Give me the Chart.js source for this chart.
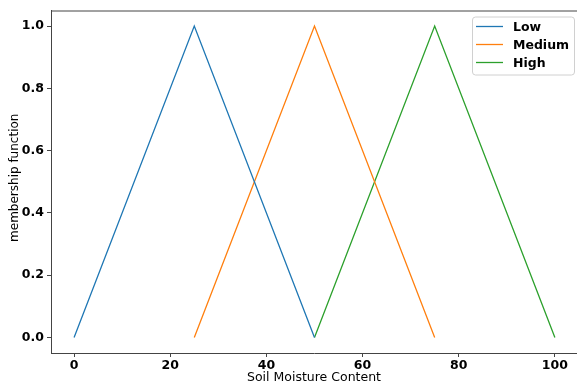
<!DOCTYPE html>
<html>
<head>
<meta charset="utf-8">
<script src="https://cdn.jsdelivr.net/npm/chart.js@4/dist/chart.umd.min.js"></script>
<style>
html,body{margin:0;padding:0;background:#fff;overflow:hidden;}
#wrap{width:577px;height:386px;}
</style>
</head>
<body>
<div id="wrap"><canvas id="c" width="577" height="386"></canvas></div>
<script>
const seriesNames = ["Low", "Medium", "High"];
const seriesColors = ["#1f77b4", "#ff7f0e", "#2ca02c"];
const lowX = [0, 25, 50];
const lowY = [0, 1, 0];
const mediumX = [25, 50, 75];
const mediumY = [0, 1, 0];
const highX = [50, 75, 100];
const highY = [0, 1, 0];
const xTicks = [0, 20, 40, 60, 80, 100];
const yTicks = [0.0, 0.2, 0.4, 0.6, 0.8, 1.0];
const xTitle = "Soil Moisture Content";
const yTitle = "membership function";

const xs = [lowX, mediumX, highX];
const ys = [lowY, mediumY, highY];

const datasets = seriesNames.map((name, i) => ({
  label: name,
  data: xs[i].map((x, j) => ({x: x, y: ys[i][j]})),
  borderColor: seriesColors[i],
  backgroundColor: seriesColors[i],
  borderWidth: 1.3,
  pointRadius: 0,
  tension: 0,
  fill: false
}));

const tickFont = {family: "'DejaVu Sans'", size: 12.5, weight: 'bold'};
const xTitleFont = {family: "'DejaVu Sans'", size: 12.5, weight: 'normal'};
const spineColor = '#444';

const framePlugin = {
  id: 'frame',
  afterDatasetsDraw(chart) {
    const ctx = chart.ctx;
    const a = chart.chartArea;
    ctx.save();
    ctx.strokeStyle = spineColor;
    ctx.lineWidth = 1;
    ctx.beginPath();
    ctx.moveTo(a.left, a.top + 0.5);
    ctx.lineTo(a.right, a.top + 0.5);
    ctx.stroke();

    // y axis title
    ctx.save();
    ctx.translate(15, (a.top + a.bottom) / 2 - 4);
    ctx.rotate(-Math.PI / 2);
    ctx.font = "12px 'DejaVu Sans'";
    ctx.fillStyle = '#000';
    ctx.textAlign = 'center';
    ctx.textBaseline = 'middle';
    ctx.fillText(yTitle, 0, 0);
    ctx.restore();

    // legend
    const w = 102, h = 58;
    const x0 = 472, y0 = a.top + 6;
    ctx.fillStyle = 'rgba(255,255,255,0.8)';
    ctx.strokeStyle = '#d0d0d0';
    ctx.lineWidth = 1;
    ctx.beginPath();
    if (ctx.roundRect) ctx.roundRect(x0 + 0.5, y0 + 0.5, w, h, 3);
    else ctx.rect(x0 + 0.5, y0 + 0.5, w, h);
    ctx.fill();
    ctx.stroke();
    ctx.font = "bold 12.5px 'DejaVu Sans'";
    ctx.textBaseline = 'middle';
    ctx.textAlign = 'left';
    chart.data.datasets.forEach((ds, i) => {
      const yy = y0 + 10 + i * 18;
      ctx.strokeStyle = ds.borderColor;
      ctx.lineWidth = 1.3;
      ctx.beginPath();
      ctx.moveTo(x0 + 4, yy);
      ctx.lineTo(x0 + 31, yy);
      ctx.stroke();
      ctx.fillStyle = '#000';
      ctx.fillText(ds.label, x0 + 41, yy + 1);
    });
    ctx.restore();
  }
};

new Chart(document.getElementById('c'), {
  type: 'line',
  data: {datasets: datasets},
  options: {
    responsive: false,
    animation: false,
    layout: {padding: {top: 9, right: 0, left: 0, bottom: 0}},
    plugins: {legend: {display: false}, tooltip: {enabled: false}},
    scales: {
      x: {
        type: 'linear',
        min: -4.8, max: 104.6,
        afterBuildTicks(s) { s.ticks = xTicks.map(v => ({value: v})); },
        afterFit(s) { s.height = 33; },
        grid: {drawOnChartArea: false, drawTicks: true, tickLength: 4, tickColor: spineColor},
        border: {display: true, color: spineColor, width: 1},
        ticks: {font: tickFont, color: '#000', padding: 1, maxRotation: 0, autoSkip: false,
                callback: v => String(v)},
        title: {display: true, text: xTitle, font: xTitleFont, color: '#000', padding: {top: 0, bottom: 1}}
      },
      y: {
        type: 'linear',
        min: -0.05, max: 1.05,
        afterBuildTicks(s) { s.ticks = yTicks.map(v => ({value: v})); },
        afterFit(s) { s.width = 51; },
        grid: {drawOnChartArea: false, drawTicks: true, tickLength: 4, tickColor: spineColor},
        border: {display: true, color: spineColor, width: 1},
        ticks: {font: tickFont, color: '#000', padding: 3, autoSkip: false,
                callback: v => Number(v).toFixed(1)},
        title: {display: false, text: yTitle}
      }
    }
  },
  plugins: [framePlugin]
});
</script>
</body>
</html>
